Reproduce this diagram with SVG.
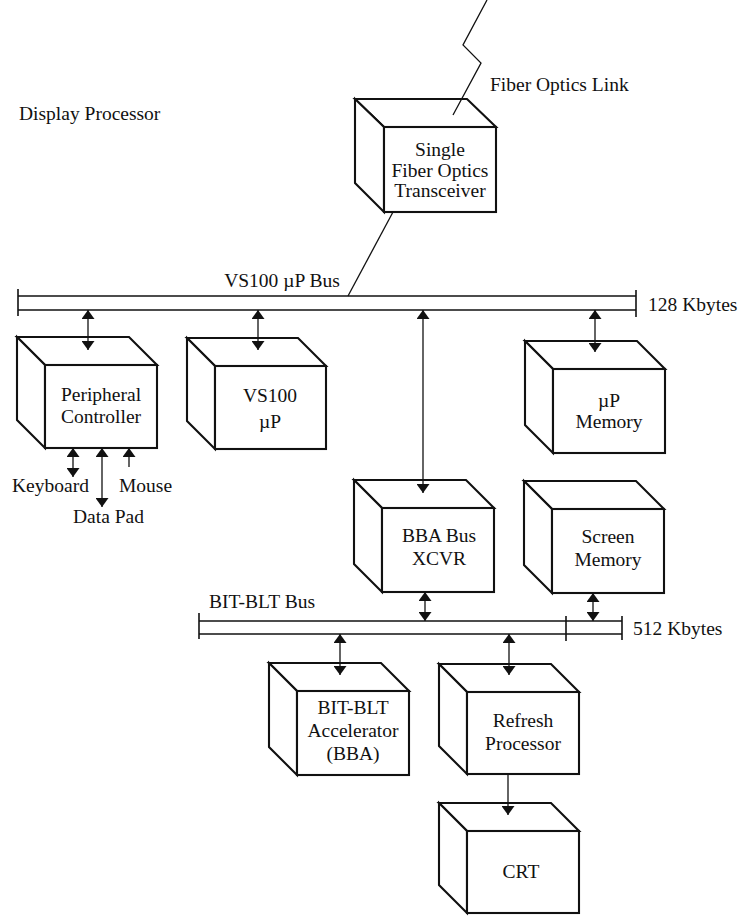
<svg xmlns="http://www.w3.org/2000/svg" width="738" height="916" viewBox="0 0 738 916">
<style>
.face{fill:#fff;stroke:#111;stroke-width:2.1;stroke-linejoin:miter}
.bus{stroke:#111;stroke-width:1.6;fill:none}
.ln{stroke:#111;stroke-width:1.3;fill:none}
.ar{stroke:#111;stroke-width:1.3;fill:none;marker-end:url(#ah)}
.ar2{stroke:#111;stroke-width:1.3;fill:none;marker-start:url(#ah);marker-end:url(#ah)}
text{font-family:"Liberation Serif","DejaVu Serif",serif;font-size:19.5px;fill:#111}
.c{text-anchor:middle}
</style>
<defs>
<marker id="ah" viewBox="0 0 9 13" refX="9" refY="6.5" markerWidth="9" markerHeight="13" markerUnits="userSpaceOnUse" orient="auto-start-reverse" preserveAspectRatio="none">
<path d="M0,0 L9,6.5 L0,13 z" fill="#111"/>
</marker>
</defs>
<rect width="738" height="916" fill="#fff"/>

<text x="19" y="120">Display Processor</text>
<text x="490" y="91">Fiber Optics Link</text>

<g id="vs100-bus">
<line class="bus" x1="18" y1="296" x2="636" y2="296"/>
<line class="bus" x1="18" y1="310" x2="636" y2="310"/>
<line class="bus" x1="18" y1="289" x2="18" y2="316"/>
<line class="bus" x1="636" y1="290" x2="636" y2="317"/>
<text x="282" y="287" class="c">VS100 µP Bus</text>
<text x="648" y="311">128 Kbytes</text>
</g>

<g id="bitblt-bus">
<line class="bus" x1="199" y1="621" x2="622" y2="621"/>
<line class="bus" x1="199" y1="634" x2="622" y2="634"/>
<line class="bus" x1="199" y1="613" x2="199" y2="639"/>
<line class="bus" x1="566" y1="616" x2="566" y2="641"/>
<line class="bus" x1="622" y1="616" x2="622" y2="640"/>
<text x="209" y="608">BIT-BLT Bus</text>
<text x="633" y="635">512 Kbytes</text>
</g>

<g id="fiber-transceiver">
<path class="face" d="M355,99 L467,99 L496,127 L384,127 Z"/>
<path class="face" d="M355,99 L384,127 L384,212 L355,183 Z"/>
<rect class="face" x="384" y="127" width="112" height="85"/>
<text x="440" y="156" class="c">Single</text>
<text x="440" y="177" class="c">Fiber Optics</text>
<text x="440" y="197" class="c">Transceiver</text>
</g>

<g id="peripheral-controller">
<path class="face" d="M17,337 L129,337 L157,365 L45,365 Z"/>
<path class="face" d="M17,337 L45,365 L45,448 L17,420 Z"/>
<rect class="face" x="45" y="365" width="112" height="83"/>
<text x="101" y="401" class="c">Peripheral</text>
<text x="101" y="423" class="c">Controller</text>
</g>

<g id="vs100-up">
<path class="face" d="M187,338 L298,338 L326,366 L215,366 Z"/>
<path class="face" d="M187,338 L215,366 L215,449 L187,421 Z"/>
<rect class="face" x="215" y="366" width="111" height="83"/>
<text x="270" y="402" class="c">VS100</text>
<text x="270" y="428" class="c">µP</text>
</g>

<g id="up-memory">
<path class="face" d="M525,341 L637,341 L665,369 L553,369 Z"/>
<path class="face" d="M525,341 L553,369 L553,453 L525,425 Z"/>
<rect class="face" x="553" y="369" width="112" height="84"/>
<text x="609" y="407" class="c">µP</text>
<text x="609" y="428" class="c">Memory</text>
</g>

<g id="bba-bus-xcvr">
<path class="face" d="M354,480 L466,480 L494,508 L382,508 Z"/>
<path class="face" d="M354,480 L382,508 L382,592 L354,564 Z"/>
<rect class="face" x="382" y="508" width="112" height="84"/>
<text x="439" y="542" class="c">BBA Bus</text>
<text x="439" y="565" class="c">XCVR</text>
</g>

<g id="screen-memory">
<path class="face" d="M524,481 L636,481 L664,509 L552,509 Z"/>
<path class="face" d="M524,481 L552,509 L552,593 L524,565 Z"/>
<rect class="face" x="552" y="509" width="112" height="84"/>
<text x="608" y="543" class="c">Screen</text>
<text x="608" y="566" class="c">Memory</text>
</g>

<g id="bitblt-accelerator">
<path class="face" d="M269,663 L381,663 L409,691 L297,691 Z"/>
<path class="face" d="M269,663 L297,691 L297,775 L269,747 Z"/>
<rect class="face" x="297" y="691" width="112" height="84"/>
<text x="353" y="714" class="c">BIT-BLT</text>
<text x="353" y="737" class="c">Accelerator</text>
<text x="353" y="760" class="c">(BBA)</text>
</g>

<g id="refresh-processor">
<path class="face" d="M439,664 L551,664 L579,692 L467,692 Z"/>
<path class="face" d="M439,664 L467,692 L467,774 L439,746 Z"/>
<rect class="face" x="467" y="692" width="112" height="82"/>
<text x="523" y="727" class="c">Refresh</text>
<text x="523" y="750" class="c">Processor</text>
</g>

<g id="crt">
<path class="face" d="M439,803 L551,803 L579,831 L467,831 Z"/>
<path class="face" d="M439,803 L467,831 L467,913 L439,885 Z"/>
<rect class="face" x="467" y="831" width="112" height="82"/>
<text x="521" y="878" class="c">CRT</text>
</g>

<g id="connectors">
<polyline class="ln" points="487,0 463,45 481,63 453,115"/>
<line class="ln" x1="393" y1="212" x2="348" y2="296"/>
<line class="ar2" x1="88" y1="310" x2="88" y2="350"/>
<line class="ar2" x1="258" y1="310" x2="258" y2="350"/>
<line class="ar2" x1="595" y1="310" x2="595" y2="352"/>
<line class="ar2" x1="423" y1="310" x2="423" y2="493"/>
<line class="ar2" x1="73" y1="448" x2="73" y2="477"/>
<line class="ar2" x1="102" y1="448" x2="102" y2="507"/>
<line class="ar" x1="129" y1="467" x2="129" y2="448"/>
<line class="ar2" x1="425" y1="592" x2="425" y2="621"/>
<line class="ar2" x1="593" y1="593" x2="593" y2="621"/>
<line class="ar2" x1="340" y1="634" x2="340" y2="675"/>
<line class="ar2" x1="509" y1="634" x2="509" y2="675"/>
<line class="ar" x1="508" y1="774" x2="508" y2="815"/>
</g>

<g id="peripheral-labels">
<text x="12" y="492">Keyboard</text>
<text x="119" y="492">Mouse</text>
<text x="73" y="523">Data Pad</text>
</g>
</svg>
